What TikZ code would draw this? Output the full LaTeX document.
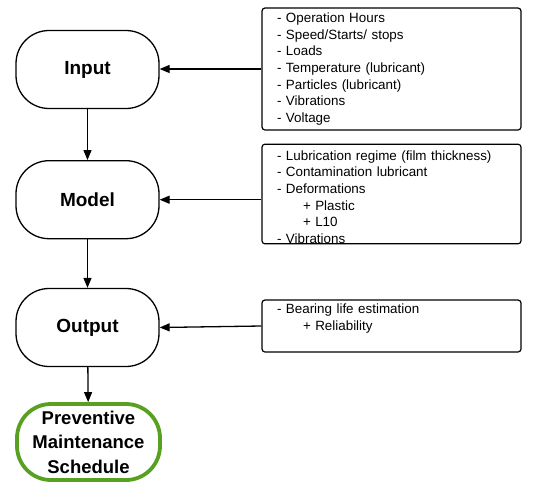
\documentclass[tikz,border=0pt]{standalone}
\usepackage{fontspec}
\setmainfont{Liberation Sans}
\usetikzlibrary{arrows.meta}
\definecolor{pmgreen}{RGB}{88,160,34}
\begin{document}
\begin{tikzpicture}[x=1pt,y=-1pt,
  stage/.style={draw=black,line width=1.3pt,rounded corners=33pt,minimum width=143pt,minimum height=78pt,inner sep=0pt,font=\fontsize{19}{23}\selectfont\bfseries,align=center},
  goal/.style={draw=pmgreen,line width=3.8pt,rounded corners=34pt,minimum width=143pt,minimum height=76pt,inner sep=0pt,font=\fontsize{18.5}{24.5}\selectfont\bfseries,align=center},
  infobox/.style={draw=black,line width=1.2pt,rounded corners=3pt,minimum width=259pt,text width=229pt,inner xsep=15pt,inner ysep=0pt,align=left,font=\fontsize{13.4}{16.7}\selectfont},
  flow/.style={line width=1.3pt,-{Triangle[length=10pt,width=8pt]}}]
\useasboundingbox (0,0) rectangle (536,491);
\node[stage] (input) at (87.5,69.5) {Input};
\node[stage] (model) at (87.5,199.7) {Model};
\node[stage] (output) at (87.5,327.5) {Output};
\node[goal] (pms) at (88.5,442) {Preventive\\Maintenance\\Schedule};
\node[infobox,minimum height=122pt] (b1) at (391.5,69) {- Operation Hours\\- Speed/Starts/ stops\\- Loads\\- Temperature (lubricant)\\- Particles (lubricant)\\- Vibrations\\- Voltage};
\node[infobox,minimum height=98pt] (b2) at (391.5,194) {\rule{0pt}{16pt}- Lubrication regime (film thickness)\\- Contamination lubricant\\- Deformations\\\hspace*{26pt}+ Plastic\\\hspace*{26pt}+ L10\\- Vibrations};
\node[infobox,minimum height=52pt] (b3) at (391.5,326) {- Bearing life estimation\\\hspace*{26pt}+ Reliability\\[-4pt]\strut};
\draw[flow] (input) -- (model);
\draw[flow] (model) -- (output);
\draw[flow] (output) -- (pms);
\draw[flow] (b1.west) -- (input.east |- b1.west);
\draw[flow] (model.east -| b2.west) -- (model.east);
\draw[flow] (b3.west) -- (output.east);
\end{tikzpicture}
\end{document}
